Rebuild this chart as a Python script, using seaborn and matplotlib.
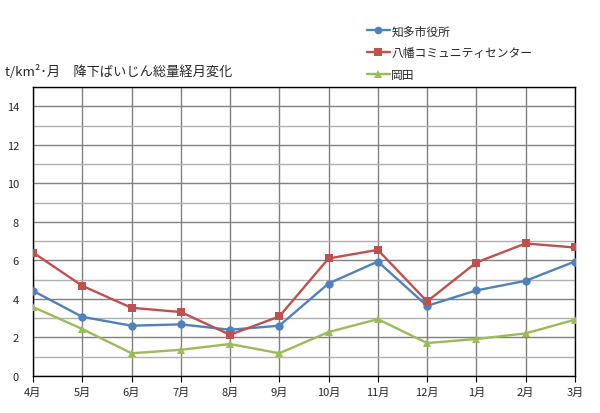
import matplotlib
matplotlib.use("Agg")
import matplotlib.pyplot as plt
import seaborn as sns
import pandas as pd
from matplotlib.ticker import MultipleLocator
from matplotlib.lines import Line2D

months = ["4月", "5月", "6月", "7月", "8月", "9月", "10月", "11月", "12月", "1月", "2月", "3月"]
chita = [4.42, 3.07, 2.61, 2.68, 2.40, 2.61, 4.80, 5.94, 3.64, 4.44, 4.94, 5.94]
yawata = [6.41, 4.68, 3.54, 3.32, 2.14, 3.09, 6.10, 6.55, 3.87, 5.89, 6.88, 6.67]
okada = [3.58, 2.44, 1.18, 1.36, 1.66, 1.18, 2.28, 2.95, 1.71, 1.92, 2.21, 2.92]
series_names = ["知多市役所", "八幡コミュニティセンター", "岡田"]

sns.set_style("white")
plt.rcParams['font.family'] = ['Noto Sans CJK JP', 'DejaVu Sans']

rows = []
for name, vals in zip(series_names, [chita, yawata, okada]):
    for i, v in enumerate(vals):
        rows.append({"pos": i, "month": months[i], "value": v, "site": name})
df = pd.DataFrame(rows)

colors = {"知多市役所": "#4F81BD", "八幡コミュニティセンター": "#C0504D", "岡田": "#9BBB59"}
markers = {"知多市役所": "o", "八幡コミュニティセンター": "s", "岡田": "^"}

fig = plt.figure(figsize=(6.0, 4.14), dpi=100)
ax = fig.add_axes([0.055, 0.0894, 0.903, 0.698])

sns.lineplot(data=df, x="pos", y="value", hue="site", style="site",
             palette=colors, markers=markers, dashes=False, linewidth=1.7,
             markersize=6, markeredgewidth=0, ax=ax, legend=False, zorder=3)

ax.set_xlim(0, 11)
ax.set_ylim(0, 15)
ax.set_xticks(range(len(months)))
ax.set_xticklabels(months)
ax.yaxis.set_major_locator(MultipleLocator(2))
ax.yaxis.set_minor_locator(MultipleLocator(1))
ax.grid(which="major", axis="y", color="#808080", linewidth=1)
ax.grid(which="minor", axis="y", color="#b0b0b0", linewidth=1)
ax.grid(which="major", axis="x", color="#808080", linewidth=1)
ax.set_axisbelow(True)
for s in ax.spines.values():
    s.set_color("black")
    s.set_linewidth(1)
ax.tick_params(axis="both", labelsize=8, length=3, color="black", pad=3)
ax.tick_params(axis="y", which="both", length=0, pad=10)
ax.tick_params(axis="x", length=4, direction="out", bottom=True, pad=4)
ax.set_xlabel("")
ax.set_ylabel("")

fig.text(0.008, 0.825, "t/km²･月　降下ばいじん総量経月変化", fontsize=9.5, ha="left", va="center")

handles = [Line2D([0], [0], color=colors[n], marker=markers[n], markersize=5.5,
                  markeredgewidth=0, linewidth=1.7) for n in series_names]
fig.legend(handles, series_names, loc="upper left", bbox_to_anchor=(0.603, 0.95),
           frameon=False, fontsize=8.5, handlelength=2.0, handletextpad=0.1,
           labelspacing=0.75, borderaxespad=0)

fig.savefig("out.png", dpi=100)
